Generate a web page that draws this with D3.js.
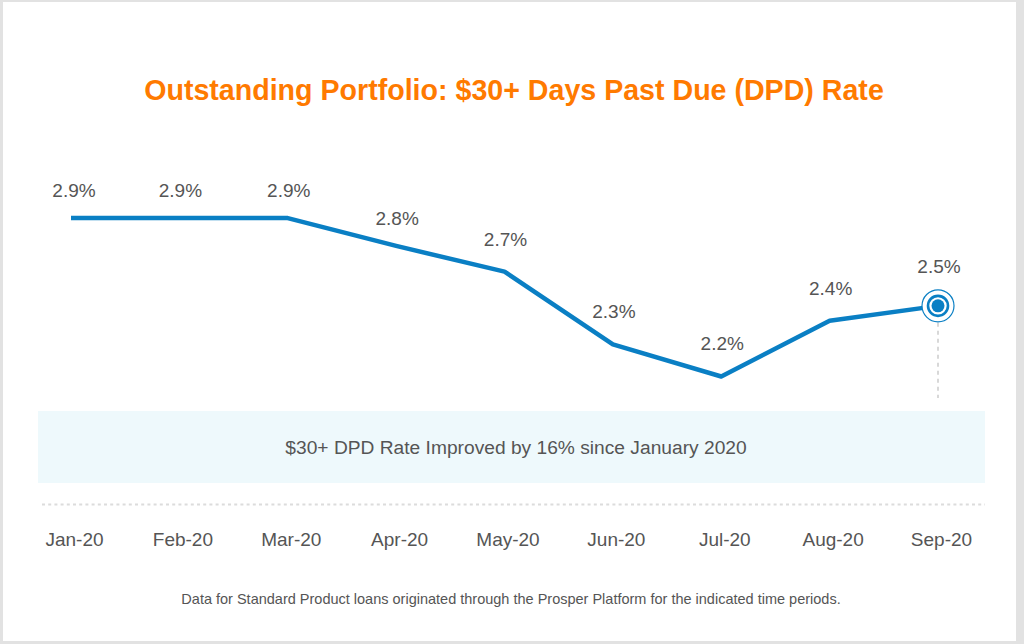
<!DOCTYPE html>
<html>
<head>
<meta charset="utf-8">
<script src="https://cdn.jsdelivr.net/npm/d3@7"></script>
<style>
  body { margin: 0; background: #fff; }
  text { font-family: "Liberation Sans", Arial, Helvetica, sans-serif; }
</style>
</head>
<body>
<svg id="chart" width="1024" height="644"></svg>
<script>
const months = ["Jan-20", "Feb-20", "Mar-20", "Apr-20", "May-20", "Jun-20", "Jul-20", "Aug-20", "Sep-20"];
const dpdRate = [2.92, 2.92, 2.92, 2.79, 2.67, 2.33, 2.18, 2.44, 2.51];

const title = "Outstanding Portfolio: $30+ Days Past Due (DPD) Rate";
const callout = "$30+ DPD Rate Improved by 16% since January 2020";
const footnote = "Data for Standard Product loans originated through the Prosper Platform for the indicated time periods.";

const W = 1024, H = 644;
const blue = "#0a7fc4";
const textGray = "#555";

const Fig = d3.select("#chart");

// frame
Fig.append("rect").attr("width", W).attr("height", H).attr("fill", "#e2e2e2");
Fig.append("rect")
    .attr("x", 3).attr("y", 2)
    .attr("width", 1013).attr("height", 639)
    .attr("fill", "#fff");

const xScale = d3.scalePoint()
    .domain(months)
    .range([71, 938]);

const yScale = d3.scaleLinear()
    .domain([2, 3])
    .range([415, 201]);

// title
Fig.append("text")
    .attr("x", 514)
    .attr("y", 100)
    .attr("text-anchor", "middle")
    .attr("font-size", "28.6px")
    .attr("font-weight", "bold")
    .attr("fill", "#ff7a00")
    .text(title);

// callout band
Fig.append("rect")
    .attr("x", 38).attr("y", 411)
    .attr("width", 947).attr("height", 72)
    .attr("fill", "#eef9fc");

Fig.append("text")
    .attr("x", 516)
    .attr("y", 454)
    .attr("text-anchor", "middle")
    .attr("font-size", "19.2px")
    .attr("fill", textGray)
    .text(callout);

// dotted baseline
Fig.append("line")
    .attr("x1", 42).attr("x2", 985)
    .attr("y1", 504.5).attr("y2", 504.5)
    .attr("stroke", "#dcdcdc")
    .attr("stroke-width", 2)
    .attr("stroke-dasharray", "3,3.2");

// x axis labels
const x_axis = d3.axisBottom(xScale).tickSize(0).tickPadding(0);
const xg = Fig.append("g")
    .attr("transform", "translate(0,532)")
    .call(x_axis);
xg.select(".domain").remove();
xg.selectAll("text")
    .attr("font-size", "19px")
    .attr("font-family", "Liberation Sans, Arial, sans-serif")
    .attr("fill", textGray)
    .attr("dy", "0.71em")
    .attr("dx", "3px");

// drop line from last point
const last = months.length - 1;
Fig.append("line")
    .attr("x1", xScale(months[last])).attr("x2", xScale(months[last]))
    .attr("y1", yScale(dpdRate[last]) + 17).attr("y2", 398)
    .attr("stroke", "#d8d8d8")
    .attr("stroke-width", 2)
    .attr("stroke-dasharray", "4,4");

// line
const line = d3.line()
    .x((d, i) => xScale(months[i]))
    .y(d => yScale(d));

Fig.append("path")
    .datum(dpdRate)
    .attr("d", line)
    .attr("fill", "none")
    .attr("stroke", blue)
    .attr("stroke-width", 4.5)
    .attr("stroke-linejoin", "round");

// value labels
Fig.selectAll(".value-label")
    .data(dpdRate)
    .join("text")
    .attr("class", "value-label")
    .attr("x", (d, i) => xScale(months[i]) + (i === 0 ? 3 : 1))
    .attr("y", (d, i) => yScale(d) - (i === last ? 33 : i < 4 ? 21 : 26))
    .attr("text-anchor", "middle")
    .attr("font-size", "19px")
    .attr("fill", textGray)
    .text(d => d.toFixed(1) + "%");

// highlighted end marker
const mx = xScale(months[last]), my = yScale(dpdRate[last]);
const marker = Fig.append("g").attr("transform", `translate(${mx},${my})`);
marker.append("circle").attr("r", 16).attr("fill", "#fff").attr("stroke", blue).attr("stroke-width", 1.2);
marker.append("circle").attr("r", 10).attr("fill", "#fff").attr("stroke", blue).attr("stroke-width", 2.6);
marker.append("circle").attr("r", 6.5).attr("fill", blue);

// footnote
Fig.append("text")
    .attr("x", 511)
    .attr("y", 604)
    .attr("text-anchor", "middle")
    .attr("font-size", "14.5px")
    .attr("fill", textGray)
    .text(footnote);
</script>
</body>
</html>
